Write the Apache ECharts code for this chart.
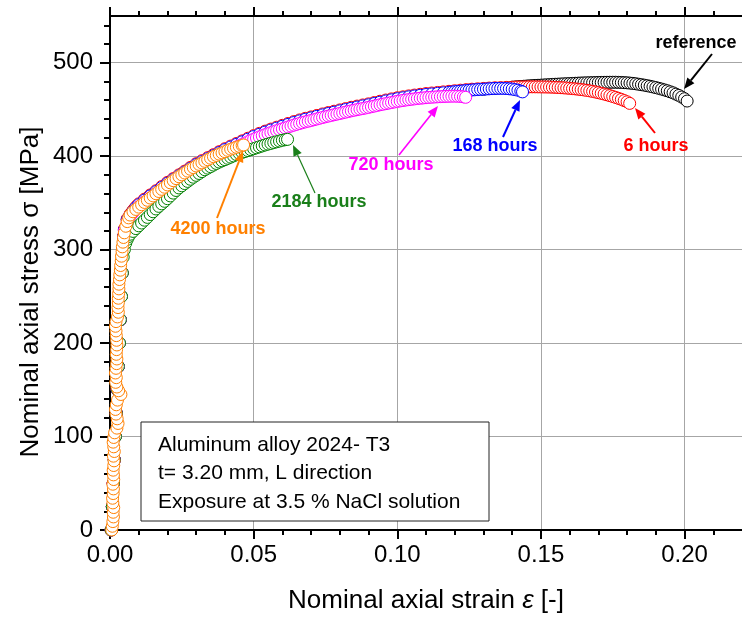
<!DOCTYPE html>
<html><head><meta charset="utf-8">
<script src="https://cdn.jsdelivr.net/npm/echarts@6/dist/echarts.min.js"></script>
<style>html,body{margin:0;padding:0;background:#fff}#c{width:742px;height:619px}</style>
</head><body><div id="c"></div>
<script>
// ---------- data (strain [-], stress [MPa]) ----------
const seriesNames = ['reference', '6 hours', '168 hours', '720 hours', '2184 hours', '4200 hours'];
const xTickValues = [0, 0.05, 0.10, 0.15, 0.20];
const yTickValues = [0, 100, 200, 300, 400, 500];

const reference = [
[0.0004,0],[0.0008,25],[0.0011,50],[0.0015,75],[0.0018,100],[0.0022,125],[0.0025,150],[0.0029,175],[0.0032,200],[0.0036,225],[0.0039,250],[0.0042,275],[0.0045,300],[0.0048,314],
[0.005,321],[0.006,332],[0.007,337],[0.008,341],[0.010,348],[0.013,355],[0.016,362],[0.020,371],[0.025,381],[0.030,391],[0.035,399],[0.040,407],[0.045,414],[0.050,421],[0.055,427],[0.060,432],[0.065,437],[0.070,441],[0.075,445],[0.080,448.5],[0.085,452],[0.090,455],[0.095,458.5],[0.100,461.5],[0.105,464],[0.110,466],[0.115,467.5],[0.120,469],[0.125,470.5],[0.130,471.7],[0.134,472.5],[0.138,473.2],
[0.140,473.8],[0.141,474.05],[0.142,474.3],[0.143,474.55],[0.144,474.8],[0.145,475.05],[0.146,475.3],[0.147,475.5],[0.148,475.7],[0.149,475.85],[0.150,476],[0.151,476.2],[0.152,476.4],[0.153,476.6],[0.154,476.8],[0.155,476.95],[0.156,477.1],[0.157,477.25],[0.158,477.4],[0.159,477.55],[0.160,477.7],[0.161,477.85],[0.162,478],[0.163,478.15],[0.164,478.3],[0.165,478.4],[0.166,478.5],[0.167,478.6],[0.168,478.7],[0.169,478.8],[0.170,478.9],[0.171,478.95],[0.172,479],[0.173,479.05],[0.174,479.1],[0.175,479.1],[0.176,479.1],[0.177,479],[0.178,478.9],[0.179,478.7],[0.180,478.5],[0.181,478.2],[0.182,477.9],[0.183,477.5],[0.184,477],[0.185,476.5],[0.186,476],[0.187,475.4],[0.188,474.8],[0.189,474.1],[0.190,473.4],[0.191,472.6],[0.192,471.8],[0.193,470.9],[0.194,470],[0.195,468.9],[0.196,467.8],[0.197,466.4],[0.198,465],[0.199,463.3],[0.200,461.5],[0.2009,459]
];

const hours6 = [
[0.0004,0],[0.0008,25],[0.0011,50],[0.0015,75],[0.0018,100],[0.0022,125],[0.0025,150],[0.0029,175],[0.0032,200],[0.0036,225],[0.0039,250],[0.0042,275],[0.0045,300],[0.0048,315],
[0.005,322],[0.006,333],[0.007,338],[0.008,342],[0.009,345.8],[0.010,349],[0.012,354],[0.014,358.5],[0.016,363],[0.018,367.5],[0.020,372],[0.022,376],[0.024,380],[0.026,384],[0.028,388],[0.030,392],[0.032,395.2],[0.034,398.4],[0.036,401.6],[0.038,404.8],[0.040,408],[0.042,410.8],[0.044,413.6],[0.046,416.4],[0.048,419.2],[0.050,422],[0.052,424.4],[0.054,426.8],[0.056,429],[0.058,431],[0.060,433],[0.062,435],[0.064,437],[0.066,438.8],[0.068,440.5],[0.070,442],[0.072,443.6],[0.074,445.2],[0.076,446.7],[0.078,448.1],[0.080,449.5],[0.082,450.9],[0.084,452.3],[0.086,453.6],[0.088,454.8],[0.090,456],[0.092,457.4],[0.094,458.8],[0.096,460.1],[0.098,461.3],[0.100,462.5],[0.102,463.5],[0.104,464.5],[0.106,465.4],[0.108,466.2],[0.110,467],[0.112,467.6],[0.114,468.2],[0.116,468.8],[0.118,469.4],[0.120,470],[0.122,470.6],[0.124,471.2],[0.126,471.7],[0.128,472.1],[0.130,472.5],[0.132,472.9],[0.134,473.2],[0.136,473.4],[0.138,473.6],
[0.140,473.8],[0.141,473.9],[0.142,474],[0.143,474.05],[0.144,474.1],[0.145,474.15],[0.146,474.2],[0.147,474.2],[0.148,474.2],[0.149,474.15],[0.150,474.1],[0.151,474.05],[0.152,474],[0.153,473.9],[0.154,473.8],[0.155,473.65],[0.156,473.5],[0.157,473.3],[0.158,473.1],[0.159,472.85],[0.160,472.6],[0.161,472.3],[0.162,472],[0.163,471.65],[0.164,471.3],[0.165,470.85],[0.166,470.4],[0.167,469.85],[0.168,469.3],[0.169,468.65],[0.170,468],[0.171,467.25],[0.172,466.5],[0.173,465.65],[0.174,464.8],[0.175,463.85],[0.176,462.9],[0.177,461.85],[0.178,460.8],[0.179,459.5],[0.180,458.2],[0.1809,456.5]
];

const hours168 = [
[0.0004,0],[0.0008,25],[0.0011,50],[0.0015,75],[0.0018,100],[0.0022,125],[0.0025,150],[0.0029,175],[0.0032,200],[0.0036,225],[0.0039,250],[0.0042,275],[0.0045,300],[0.0048,314],
[0.005,321],[0.006,332],[0.007,337],[0.008,341],[0.009,344.8],[0.010,348],[0.012,353],[0.014,357.5],[0.016,362],[0.018,366.5],[0.020,371],[0.022,375],[0.024,379],[0.026,383],[0.028,387],[0.030,391],[0.032,394.2],[0.034,397.4],[0.036,400.6],[0.038,403.8],[0.040,407],[0.042,409.8],[0.044,412.6],[0.046,415.4],[0.048,418.2],[0.050,421],[0.052,423.4],[0.054,425.8],[0.056,428],[0.058,430],[0.060,432],[0.062,434],[0.064,436],[0.066,437.8],[0.068,439.5],[0.070,441],[0.072,442.6],[0.074,444.2],[0.076,445.7],[0.078,447.1],[0.080,448.5],[0.082,449.9],[0.084,451.3],[0.086,452.6],[0.088,453.8],[0.090,455],[0.092,456.4],[0.094,457.8],[0.096,459.1],[0.098,460.3],[0.100,461.5],[0.102,462.5],[0.104,463.5],[0.106,464.4],[0.108,465.2],[0.110,466],[0.112,466.6],[0.114,467.2],[0.116,467.8],
[0.118,468.4],[0.119,468.7],[0.120,469],[0.121,469.3],[0.122,469.6],[0.123,469.9],[0.124,470.2],[0.125,470.5],[0.126,470.8],[0.127,471.05],[0.128,471.3],[0.129,471.5],[0.130,471.7],[0.131,471.9],[0.132,472.1],[0.133,472.3],[0.134,472.5],[0.135,472.55],[0.136,472.6],[0.137,472.5],[0.138,472.4],[0.139,472.1],[0.140,471.8],[0.141,471.2],[0.142,470.6],[0.143,469.6],[0.1436,468.8]
];

const hours720 = [
[0.0004,0],[0.0008,25],[0.0011,50],[0.0015,75],[0.0018,100],[0.0022,125],[0.0025,150],[0.0029,175],[0.0032,200],[0.0036,225],[0.0039,250],[0.0042,275],[0.0045,300],[0.0048,313],
[0.005,320],[0.006,330],[0.007,335.5],[0.008,339.5],[0.010,346],[0.012,351],[0.014,355.5],[0.016,360],[0.018,364.5],[0.020,368.5],[0.022,372.5],[0.024,376.5],[0.026,380.5],[0.028,384.5],[0.030,388.5],[0.032,391.7],[0.034,394.9],[0.036,398],[0.038,401.2],
[0.040,404.2],[0.041,405.6],[0.042,407],[0.043,408.4],[0.044,409.8],[0.045,411.2],[0.046,412.6],[0.047,414],[0.048,415.4],[0.049,416.8],[0.050,418.2],[0.051,419.4],[0.052,420.6],[0.053,421.8],[0.054,423],[0.055,424.1],[0.056,425.2],[0.057,426.2],[0.058,427.2],[0.059,428.2],[0.060,429.2],[0.061,430.2],[0.062,431.2],[0.063,432.2],[0.064,433.2],[0.065,434.1],[0.066,435],[0.067,435.85],[0.068,436.7],[0.069,437.45],[0.070,438.2],[0.071,439],[0.072,439.8],[0.073,440.6],[0.074,441.4],[0.075,442.15],[0.076,442.9],[0.077,443.6],[0.078,444.3],[0.079,445],[0.080,445.7],[0.081,446.4],[0.082,447.1],[0.083,447.8],[0.084,448.5],[0.085,449.15],[0.086,449.8],[0.087,450.4],[0.088,451],[0.089,451.6],[0.090,452.2],[0.091,452.9],[0.092,453.6],[0.093,454.3],[0.094,455],[0.095,455.6],[0.096,456.2],[0.097,456.8],[0.098,457.4],[0.099,458],[0.100,458.6],[0.101,459.1],[0.102,459.6],[0.103,460.1],[0.104,460.5],[0.105,460.9],[0.106,461.3],[0.107,461.7],[0.108,462],[0.109,462.3],[0.110,462.6],[0.111,462.9],[0.112,463.1],[0.113,463.3],[0.114,463.5],[0.115,463.7],[0.116,463.85],[0.117,464],[0.118,464.1],[0.119,464.2],[0.120,464.2],[0.121,464.1],[0.122,463.9],[0.123,463.5],[0.1238,463]
];

const hours2184 = [
[0.0004,0],[0.0008,25],[0.0012,50],[0.0015,75],[0.0019,100],[0.0022,125],[0.0026,150],[0.0029,175],[0.0033,200],[0.0036,225],[0.0040,250],[0.0043,275],[0.0046,292],
[0.0050,300],[0.0055,307],[0.0060,311],[0.0065,314],[0.0070,316.5],[0.0080,319.5],[0.0090,322.5],[0.0100,325.5],[0.0110,328.5],[0.0120,331.5],[0.0130,334.5],[0.0140,337.5],[0.0150,340.5],[0.0160,343.5],[0.0170,346.3],[0.0180,349],[0.0190,351.7],[0.0200,354.5],[0.0210,357.5],[0.0220,360.5],[0.0230,363.3],[0.0240,366],[0.0250,368.3],[0.0260,370.7],[0.0270,373],[0.0280,375.3],[0.0290,377.5],[0.0300,379.5],[0.0310,381.5],[0.0320,383.5],[0.0330,385.5],[0.0340,387.2],[0.0350,388.8],[0.0360,390.5],[0.0370,392.2],[0.0380,393.7],[0.0390,395],[0.0400,396.3],[0.0410,397.7],[0.0420,399],[0.0430,400.3],[0.0440,401.7],[0.0450,403],[0.0460,404],[0.0470,405],[0.0480,406],[0.0490,407],[0.0500,408],[0.0510,409],[0.0520,410],[0.0530,411],[0.0540,412],[0.0550,412.9],[0.0560,413.7],[0.0570,414.6],[0.0580,415.4],[0.0590,416.2],[0.0600,417],[0.0610,417.6],[0.0618,418]
];

const hours4200 = [
[0.0006,0],[0.0008,4],[0.0010,9],[0.0012,14],[0.0011,19],[0.0013,24],[0.0010,29],[0.0009,34],[0.0011,39],[0.0012,44],[0.0010,49],[0.0013,54],[0.0012,59],[0.0011,64],[0.0013,69],[0.0014,74],[0.0012,79],[0.0015,84],[0.0013,89],[0.0011,94],[0.0013,99],[0.0016,104],[0.0024,109],[0.0028,114],[0.0025,119],[0.0021,124],[0.0019,129],[0.0022,134],[0.0026,139],[0.0038,145],[0.0030,149],[0.0024,153],[0.0020,158],[0.0022,163],[0.0019,168],[0.0021,173],[0.0023,178],[0.0024,183],[0.0022,188],[0.0023,193],[0.0024,198],[0.0023,203],[0.0022,208],[0.0021,213],[0.0019,218],[0.0021,223],[0.0026,228],[0.0029,233],[0.0028,238],[0.0029,243],[0.0029,248],[0.0030,253],[0.0031,258],[0.0031,263],[0.0033,268],[0.0034,273],[0.0036,278],[0.0037,283],[0.0039,288],[0.0040,293],[0.0042,298],[0.0043,303],[0.0045,308],[0.0047,313],
[0.0050,318],[0.0055,325],[0.0060,330],[0.0065,334],[0.0070,337],[0.0080,340.5],[0.0090,343],[0.0100,345.5],[0.0110,348],[0.0120,350.5],[0.0130,352.8],[0.0140,355.2],[0.0150,357.5],[0.0160,359.8],[0.0170,362.2],[0.0180,364.5],[0.0190,366.8],[0.0200,369.2],[0.0210,371.5],[0.0220,373.8],[0.0230,376],[0.0240,378],[0.0250,380],[0.0260,382],[0.0270,384],[0.0280,386],[0.0290,387.8],[0.0300,389.5],[0.0310,391.2],[0.0320,392.8],[0.0330,394.5],[0.0340,396.2],[0.0350,397.8],[0.0360,399.5],[0.0370,400.8],[0.0380,402.2],[0.0390,403.5],[0.0400,404.8],[0.0410,406.2],[0.0420,407.5],[0.0430,408.5],[0.0440,409.5],[0.0450,410.5],[0.0460,411.5],[0.0465,412]
];

// ---------- styling ----------
const FONT = '"Liberation Sans", Arial, sans-serif';
const colors = ['#000000', '#ff0000', '#0000ff', '#ff00ff', '#008000', '#ff8000'];
const textColors = ['#000000', '#ff0000', '#0000ff', '#ff00ff', '#1a7f1a', '#ff8000'];
const allData = [reference, hours6, hours168, hours720, hours2184, hours4200];

const chart = echarts.init(document.getElementById('c'), null, {renderer: 'canvas'});

const axisLineStyle = {color: '#000', width: 2};
const baseX = {
  type: 'value', min: 0, max: 0.22, interval: 0.05,
  axisLine: {show: true, onZero: false, lineStyle: axisLineStyle},
  axisTick: {show: true, inside: false, length: 9, customValues: xTickValues, lineStyle: axisLineStyle},
  minorTick: {show: true, splitNumber: 5, length: 5, lineStyle: {color: '#000', width: 2}},
  minorSplitLine: {show: false}
};
const baseY = {
  type: 'value', min: 0, max: 550, interval: 100,
  axisLine: {show: true, onZero: false, lineStyle: axisLineStyle},
  axisTick: {show: true, inside: false, length: 10, customValues: yTickValues, lineStyle: axisLineStyle},
  minorTick: {show: true, splitNumber: 5, length: 6, lineStyle: {color: '#000', width: 2}},
  minorSplitLine: {show: false}
};

const series = allData.map((d, i) => ({
  name: seriesNames[i], type: 'scatter', data: d, xAxisIndex: 0, yAxisIndex: 0,
  symbol: 'circle', symbolSize: 12, clip: false,
  itemStyle: {color: '#ffffff', borderColor: colors[i], borderWidth: 1, opacity: 1},
  emphasis: {disabled: true}, z: 2
}));

// annotation arrows (pixel layout)
const notes = [
  {t: 'reference',  tx: 696, ty: 43,  x1: 712, y1: 54,  x2: 684, y2: 89,  w: 2},
  {t: '6 hours',    tx: 656, ty: 146, x1: 655, y1: 133, x2: 635, y2: 108, w: 2},
  {t: '168 hours',  tx: 495, ty: 146, x1: 503, y1: 137, x2: 520, y2: 100, w: 2},
  {t: '720 hours',  tx: 391, ty: 165, x1: 399, y1: 155, x2: 438, y2: 106, w: 1.6},
  {t: '2184 hours', tx: 319, ty: 202, x1: 315, y1: 193, x2: 293, y2: 145, w: 1.2},
  {t: '4200 hours', tx: 218, ty: 229, x1: 217, y1: 218, x2: 243, y2: 151, w: 2}
];
const graphics = [];
notes.forEach((n, k) => {
  const c = textColors[k];
  const ang = Math.atan2(n.y2 - n.y1, n.x2 - n.x1);
  const L = 11, W = 4.5;
  const bx = n.x2 - L * Math.cos(ang), by = n.y2 - L * Math.sin(ang);
  graphics.push({type: 'line', z: 100, shape: {x1: n.x1, y1: n.y1, x2: bx, y2: by}, style: {stroke: c, lineWidth: n.w}});
  graphics.push({type: 'polygon', z: 100, shape: {points: [
    [n.x2, n.y2],
    [bx + W * Math.sin(ang), by - W * Math.cos(ang)],
    [bx - W * Math.sin(ang), by + W * Math.cos(ang)]
  ]}, style: {fill: c}});
  graphics.push({type: 'text', z: 100, x: n.tx, y: n.ty, style: {text: n.t, fill: c, font: 'bold 18px ' + FONT, align: 'center', verticalAlign: 'middle'}});
});
// info box
graphics.push({type: 'rect', z: 90, shape: {x: 141, y: 422, width: 348, height: 99}, style: {fill: '#fff', stroke: '#222', lineWidth: 1}});
const boxLines = ['Aluminum alloy 2024- T3', 't= 3.20 mm, L direction', 'Exposure at 3.5 % NaCl solution'];
const boxY = [445, 473, 502];
boxLines.forEach((s, i) => graphics.push({type: 'text', z: 91, x: 158, y: boxY[i], style: {text: s, fill: '#000', font: '21px ' + FONT, align: 'left', verticalAlign: 'middle'}}));
// y-axis title
graphics.push({type: 'text', z: 100, x: 31, y: 292, rotation: Math.PI / 2, style: {text: 'Nominal axial stress σ [MPa]', fill: '#000', font: '26px ' + FONT, align: 'center', verticalAlign: 'middle'}});

chart.setOption({
  animation: false,
  backgroundColor: '#fff',
  grid: {left: 110, top: 16, right: 0, bottom: 89},
  xAxis: [
    Object.assign({}, baseX, {
      position: 'bottom',
      axisLabel: {fontSize: 24, color: '#000', fontFamily: FONT, margin: 13, customValues: xTickValues, formatter: v => v.toFixed(2)},
      splitLine: {show: true, lineStyle: {color: '#a6a6a6', width: 1}},
      name: 'Nominal axial strain {i|ε} [-]', nameLocation: 'middle', nameGap: 58,
      nameTextStyle: {fontSize: 26, color: '#000', fontFamily: FONT,
        rich: {i: {fontStyle: 'italic', fontSize: 26, color: '#000', fontFamily: FONT}}}
    }),
    Object.assign({}, baseX, {
      position: 'top', axisLabel: {show: false}, splitLine: {show: false}
    })
  ],
  yAxis: [
    Object.assign({}, baseY, {
      position: 'left',
      axisLabel: {fontSize: 24, color: '#000', fontFamily: FONT, margin: 17, customValues: yTickValues},
      splitLine: {show: true, lineStyle: {color: '#a6a6a6', width: 1}}
    })
  ],
  series: series,
  graphic: graphics
});
</script>
</body></html>
